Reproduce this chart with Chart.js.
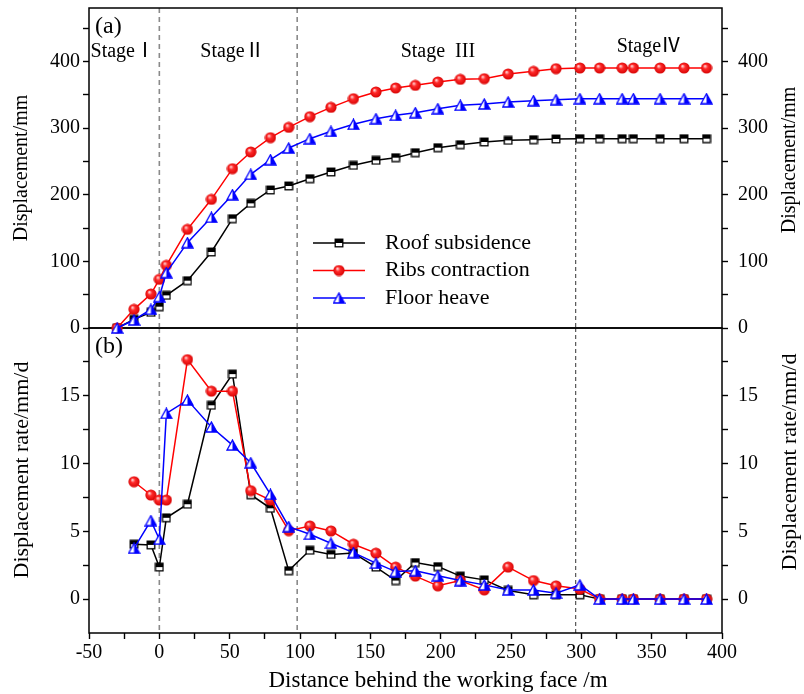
<!DOCTYPE html>
<html lang="en">
<head>
<meta charset="UTF-8">
<title>Displacement behind the working face</title>
<script src="https://cdn.jsdelivr.net/npm/chart.js"></script>
<style>
  body { margin: 0; background: #fff; }
  .wrap { position: relative; width: 804px; height: 694px; }
  .wrap canvas { position: absolute; left: 0; top: 0; }
</style>
</head>
<body>
<div class="wrap">
  <canvas id="rate" width="804" height="694"></canvas>
  <canvas id="disp" width="804" height="694"></canvas>
</div>
<script>
// distance behind the working face (m)
const distance = [-30, -18, -6, 0, 5, 20, 37, 52, 65, 79, 92, 107, 122, 138, 154,
  168, 182, 198, 214, 231, 248, 266, 282, 299, 313, 329, 337, 356, 373, 389];

// (a) displacement, mm
const roofDisp = [0, 13, 23.5, 32, 49, 71, 114, 164, 187, 207, 213, 224, 234, 244, 251.5,
  255.5, 263, 270.5, 275, 279, 281.5, 282.5, 283.5, 284, 284, 284, 284, 284, 284, 284];
const ribsDisp = [0, 28, 51, 73, 94, 148, 193, 239, 264, 285.5, 301, 317, 331, 344, 354,
  360, 364, 369, 373, 374, 381, 385, 389, 390, 390, 390, 390, 390, 390, 390];
const floorDisp = [0, 12, 28, 47, 83, 128, 166, 200, 230.5, 252.5, 270, 284, 295, 305.5, 314,
  319, 323, 329, 334, 336, 339, 341, 342.5, 344, 344, 344, 344, 344, 344, 344];

// (b) displacement rate, mm/d (no rate at the first station)
const roofRate = [null, 4.05, 4.0, 2.36, 6.0, 7.0, 14.3, 16.6, 7.7, 6.7, 2.1, 3.6, 3.3, 3.4, 2.36,
  1.37, 2.7, 2.4, 1.7, 1.42, 0.64, 0.32, 0.32, 0.32, 0, 0, 0, 0, 0, 0];
const ribsRate = [null, 8.66, 7.68, 7.31, 7.31, 17.67, 15.34, 15.34, 8.0, 7.31, 5.05, 5.4, 5.03, 4.05, 3.39,
  2.36, 1.7, 0.98, 1.37, 0.68, 2.36, 1.37, 0.98, 0.74, 0, 0, 0, 0, 0, 0];
const floorRate = [null, 3.75, 5.79, 4.42, 13.7, 14.68, 12.7, 11.36, 10.06, 7.73, 5.35, 4.78, 4.12, 3.43, 2.65,
  2.03, 2.1, 1.72, 1.37, 1.05, 0.68, 0.68, 0.44, 1.05, 0, 0, 0, 0, 0, 0];

const seriesNames = ['Roof subsidence', 'Ribs contraction', 'Floor heave'];
const stageBounds = [0, 98, 296];
const stageLabels = ['Stage\u2160', 'Stage\u2161', 'Stage  III', 'Stage\u2163'];
const stageCenters = [-26, 52, 198, 348];

// tick positions (major ones get labels)
const distTicks = [-50, -25, 0, 25, 50, 75, 100, 125, 150, 175, 200, 225, 250, 275, 300, 325, 350, 375, 400];
const dispTicks = [0, 50, 100, 150, 200, 250, 300, 350, 400, 450];
const rateTicks = [0, 2.5, 5, 7.5, 10, 12.5, 15, 17.5];

const SERIF = "'Liberation Serif', 'Times New Roman', serif";
const STAGE_FONT = "'Liberation Serif', 'Noto Sans CJK SC', serif";

// marker images
function squareMark() {
  const c = document.createElement('canvas');
  c.width = 10; c.height = 10;
  const g = c.getContext('2d');
  g.fillStyle = '#fff'; g.fillRect(1, 1, 8, 8);
  g.fillStyle = '#000'; g.fillRect(1, 1, 8, 4);
  g.strokeStyle = '#000'; g.lineWidth = 1.3; g.strokeRect(1.2, 1.2, 7.6, 7.6);
  return c;
}
function ballMark() {
  const c = document.createElement('canvas');
  c.width = 12; c.height = 12;
  const g = c.getContext('2d');
  const grd = g.createRadialGradient(4.3, 4, 0.3, 6, 6, 6);
  grd.addColorStop(0, '#ffd8d8');
  grd.addColorStop(0.35, '#ff2a2a');
  grd.addColorStop(1, '#d40000');
  g.fillStyle = grd;
  g.beginPath(); g.arc(6, 6, 5.6, 0, Math.PI * 2); g.fill();
  return c;
}
function triMark() {
  const c = document.createElement('canvas');
  c.width = 13; c.height = 12;
  const g = c.getContext('2d');
  const path = () => { g.beginPath(); g.moveTo(6.5, 1); g.lineTo(12, 11); g.lineTo(1, 11); g.closePath(); };
  path(); g.fillStyle = '#fff'; g.fill();
  g.save(); path(); g.clip(); g.fillStyle = '#0000ff'; g.fillRect(6.5, 0, 7, 12); g.restore();
  path(); g.strokeStyle = '#0000ff'; g.lineWidth = 1.3; g.stroke();
  return c;
}
const marks = [squareMark(), ballMark(), triMark()];
const colors = ['#000000', '#ff0000', '#0000ff'];

function makeSets(values) {
  return values.map((vals, i) => ({
    label: seriesNames[i],
    data: distance.map((d, k) => ({ x: d, y: vals[k] })),
    borderColor: colors[i],
    backgroundColor: colors[i],
    borderWidth: 1.5,
    pointStyle: marks[i],
    pointRadius: 5,
    tension: 0,
    clip: false,
    order: 3 - i
  }));
}

// no extra room for half tick labels, the panels must sit edge to edge
function noPad(s) {
  s.paddingTop = 0; s.paddingBottom = 0; s.paddingLeft = 0; s.paddingRight = 0;
}

function yAxis(pos, min, max, ticks, isMajor, width) {
  return {
    type: 'linear', position: pos, min: min, max: max,
    afterBuildTicks: s => { s.ticks = ticks.map(v => ({ value: v })); },
    afterFit: s => { s.width = width; noPad(s); },
    border: { display: false },
    grid: { drawOnChartArea: false, tickColor: '#000', tickLength: 6, tickWidth: 1.4 },
    ticks: {
      color: '#000', font: { family: SERIF, size: 20 }, padding: pos === 'left' ? 3 : 10,
      autoSkip: false, callback: v => isMajor(v) ? v : ''
    }
  };
}

function vText(ctx, text, x, y) {
  ctx.save();
  ctx.translate(x, y);
  ctx.rotate(-Math.PI / 2);
  ctx.textAlign = 'center';
  ctx.textBaseline = 'middle';
  ctx.fillText(text, 0, 0);
  ctx.restore();
}

// frame, stage boundaries, y titles and panel tag
const framePlugin = {
  id: 'frame',
  beforeDatasetsDraw(chart, args, opts) {
    const { ctx, chartArea: a, scales: { x } } = chart;
    ctx.save();
    stageBounds.forEach((v, i) => {
      const px = x.getPixelForValue(v);
      ctx.beginPath();
      ctx.setLineDash(i < 2 ? [5, 4] : [4, 3]);
      ctx.strokeStyle = i < 2 ? '#8a8a8a' : '#333';
      ctx.lineWidth = i < 2 ? 1.6 : 1;
      ctx.moveTo(px, a.top); ctx.lineTo(px, a.bottom);
      ctx.stroke();
    });
    ctx.setLineDash([]);
    ctx.strokeStyle = '#000';
    ctx.lineWidth = 1.5;
    ctx.strokeRect(a.left, a.top, a.right - a.left, a.bottom - a.top);
    ctx.fillStyle = '#000';
    ctx.font = opts.titleSize + 'px ' + SERIF;
    vText(ctx, opts.title, 22, opts.titleY);
    vText(ctx, opts.title, 790, opts.titleY - 8);
    ctx.font = '24px ' + SERIF;
    ctx.textAlign = 'left';
    ctx.textBaseline = 'middle';
    ctx.fillText(opts.tag, a.left + 6, a.top + 19);
    if (opts.xTitle) {
      ctx.font = '23px ' + SERIF;
      ctx.textAlign = 'center';
      ctx.fillText(opts.xTitle, 438, 681);
    }
    ctx.restore();
  }
};

// stage names and legend on panel (a)
const notesPlugin = {
  id: 'notes',
  afterDatasetsDraw(chart) {
    const { ctx, scales: { x } } = chart;
    ctx.save();
    ctx.fillStyle = '#000';
    ctx.font = '20px ' + STAGE_FONT;
    ctx.textAlign = 'center';
    ctx.textBaseline = 'middle';
    stageLabels.forEach((t, i) => {
      ctx.fillText(t, x.getPixelForValue(stageCenters[i]), i === 3 ? 47 : 52);
    });
    ctx.textAlign = 'left';
    ctx.font = '22px ' + SERIF;
    chart.data.datasets.forEach((ds, i) => {
      const y = 243 + i * 27.5;
      ctx.beginPath();
      ctx.strokeStyle = ds.borderColor;
      ctx.lineWidth = 1.5;
      ctx.moveTo(313, y); ctx.lineTo(365, y);
      ctx.stroke();
      const m = marks[i];
      ctx.drawImage(m, 339 - m.width / 2, y - m.height / 2);
      ctx.fillText(ds.label, 385, y);
    });
    ctx.restore();
  }
};

new Chart(document.getElementById('disp'), {
  type: 'line',
  data: { datasets: makeSets([roofDisp, ribsDisp, floorDisp]) },
  options: {
    responsive: false,
    animation: false,
    layout: { padding: { top: 8, bottom: 366, left: 0, right: 0 } },
    plugins: {
      legend: { display: false },
      tooltip: { enabled: false },
      frame: { title: 'Displacement/mm', tag: '(a)', titleSize: 20, titleY: 168 }
    },
    scales: {
      x: { type: 'linear', min: -50, max: 400, display: false },
      y: yAxis('left', 0, 480, dispTicks, v => v % 100 === 0, 89),
      y2: yAxis('right', 0, 480, dispTicks, v => v % 100 === 0, 82)
    }
  },
  plugins: [framePlugin, notesPlugin]
});

new Chart(document.getElementById('rate'), {
  type: 'line',
  data: { datasets: makeSets([roofRate, ribsRate, floorRate]) },
  options: {
    responsive: false,
    animation: false,
    layout: { padding: { top: 328, bottom: 0, left: 0, right: 0 } },
    plugins: {
      legend: { display: false },
      tooltip: { enabled: false },
      frame: {
        title: 'Displacement rate/mm/d', tag: '(b)', titleSize: 22, titleY: 470,
        xTitle: 'Distance behind the working face /m'
      }
    },
    scales: {
      x: {
        type: 'linear', min: -50, max: 400,
        afterBuildTicks: s => { s.ticks = distTicks.map(v => ({ value: v })); },
        afterFit: s => { s.height = 61; noPad(s); },
        border: { display: false },
        grid: { drawOnChartArea: false, tickColor: '#000', tickLength: 6, tickWidth: 1.4 },
        ticks: {
          color: '#000', font: { family: SERIF, size: 20 }, padding: 2,
          maxRotation: 0, autoSkip: false, callback: v => v % 50 === 0 ? v : ''
        }
      },
      y: yAxis('left', -2.5, 20, rateTicks, v => v % 5 === 0, 89),
      y2: yAxis('right', -2.5, 20, rateTicks, v => v % 5 === 0, 82)
    }
  },
  plugins: [framePlugin]
});
</script>
</body>
</html>
